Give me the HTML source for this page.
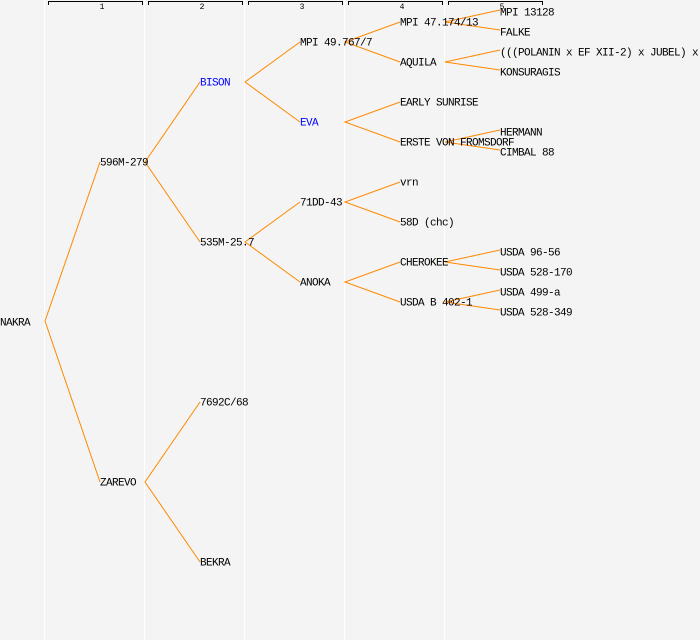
<!DOCTYPE html>
<html><head><meta charset="utf-8"><style>
html,body{margin:0;padding:0;background:#f4f4f4;}
svg{display:block;}
text{font-family:"Liberation Mono","DejaVu Sans Mono",monospace;font-size:11px;letter-spacing:-0.6px;fill:#000;}
.h{font-size:8px;letter-spacing:0;text-anchor:middle;}
.b{fill:#0000ff;}
</style></head><body>
<svg width="700" height="640" viewBox="0 0 700 640" xmlns="http://www.w3.org/2000/svg">
<rect width="700" height="640" fill="#f4f4f4"/>
<g stroke="#ffffff" stroke-width="1">
<line x1="44.5" y1="0" x2="44.5" y2="640"/><line x1="144.5" y1="0" x2="144.5" y2="640"/>
<line x1="244.5" y1="0" x2="244.5" y2="640"/><line x1="344.5" y1="0" x2="344.5" y2="640"/>
<line x1="444.5" y1="0" x2="444.5" y2="640"/>
</g>
<g stroke="#000" stroke-width="1" fill="none">
<path d="M48.5 5V1.5H142.5V5"/><path d="M148.5 5V1.5H242.5V5"/><path d="M248.5 5V1.5H342.5V5"/>
<path d="M348.5 5V1.5H442.5V5"/><path d="M448.5 5V1.5H542.5V5"/>
</g>
<text class="h" x="102" y="9">1</text><text class="h" x="202" y="9">2</text><text class="h" x="302" y="9">3</text>
<text class="h" x="402" y="9">4</text><text class="h" x="502" y="9">5</text>
<g stroke="#ff8800" stroke-width="1" fill="none">
<path d="M100 162L45 321L100 482"/>
<path d="M200 82L145 162L200 242"/>
<path d="M200 402L145 482L200 562"/>
<path d="M300 42L245 82L300 122"/>
<path d="M300 202L245 242L300 282"/>
<path d="M400 22L345 42L400 62"/>
<path d="M400 102L345 122L400 142"/>
<path d="M400 182L345 202L400 222"/>
<path d="M400 262L345 282L400 302"/>
<path d="M500 10L445 22L500 30"/>
<path d="M500 50L445 62L500 70"/>
<path d="M500 130L445 142L500 150"/>
<path d="M500 250L445 262L500 270"/>
<path d="M500 290L445 302L500 310"/>
</g>
<g transform="translate(0,-0.5)">
<text x="0" y="326">NAKRA</text>
<text x="100" y="166">596M-279</text>
<text x="100" y="486">ZAREVO</text>
<text x="200" y="86" class="b">BISON</text>
<text x="200" y="246">535M-25.7</text>
<text x="200" y="406">7692C/68</text>
<text x="200" y="566">BEKRA</text>
<text x="300" y="46">MPI 49.767/7</text>
<text x="300" y="126" class="b">EVA</text>
<text x="300" y="206">71DD-43</text>
<text x="300" y="286">ANOKA</text>
<text x="400" y="26">MPI 47.174/13</text>
<text x="400" y="66">AQUILA</text>
<text x="400" y="106">EARLY SUNRISE</text>
<text x="400" y="146">ERSTE VON FROMSDORF</text>
<text x="400" y="186">vrn</text>
<text x="400" y="226">58D (chc)</text>
<text x="400" y="266">CHEROKEE</text>
<text x="400" y="306">USDA B 402-1</text>
<text x="500" y="16">MPI 13128</text>
<text x="500" y="36">FALKE</text>
<text x="500" y="56">(((POLANIN x EF XII-2) x JUBEL) x</text>
<text x="500" y="76">KONSURAGIS</text>
<text x="500" y="136">HERMANN</text>
<text x="500" y="156">CIMBAL 88</text>
<text x="500" y="256">USDA 96-56</text>
<text x="500" y="276">USDA 528-170</text>
<text x="500" y="296">USDA 499-a</text>
<text x="500" y="316">USDA 528-349</text>
</g>
</svg>
</body></html>
